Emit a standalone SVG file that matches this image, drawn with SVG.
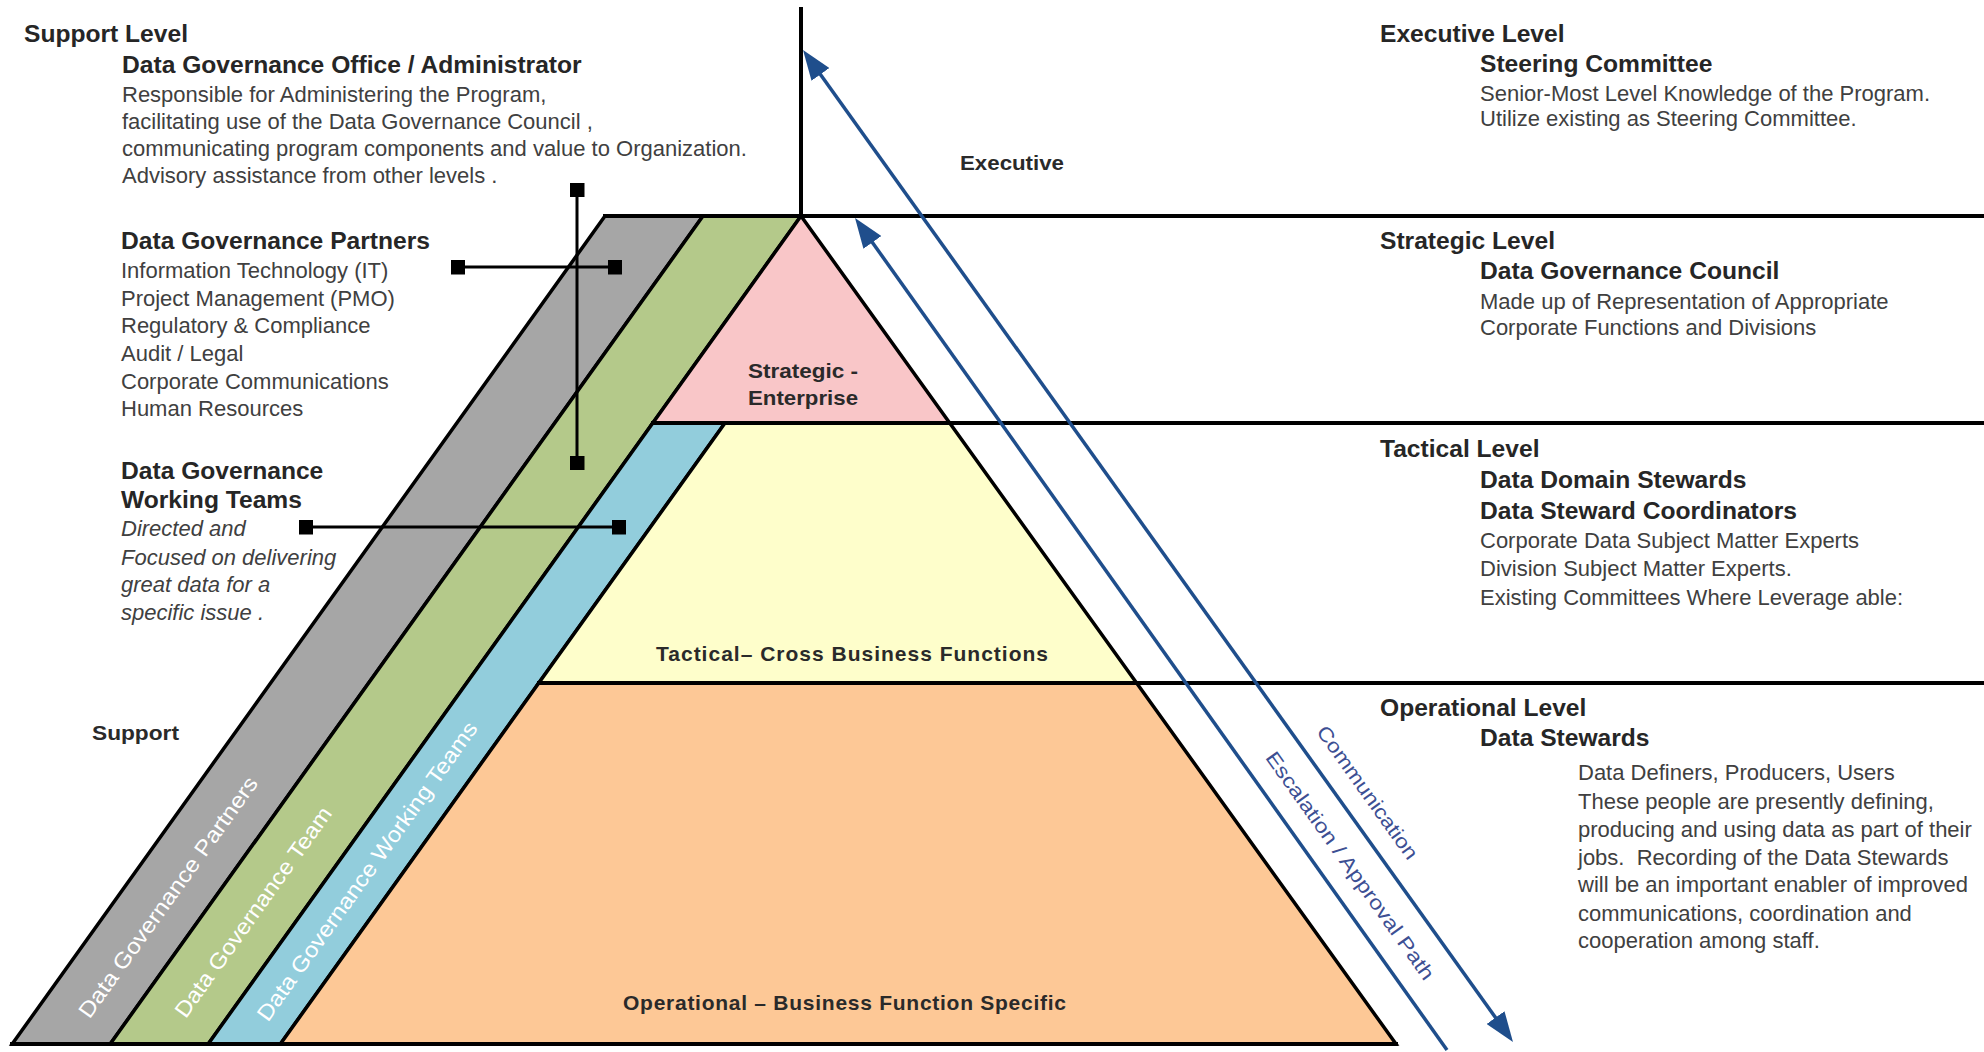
<svg xmlns="http://www.w3.org/2000/svg" width="1984" height="1052" viewBox="0 0 1984 1052">
<defs>
<style>
text{font-family:"Liberation Sans",Arial,sans-serif;}
.h{font-size:24.6px;font-weight:bold;fill:#262626;}
.t{font-size:22px;fill:#404040;}
.ti{font-size:22px;font-style:italic;fill:#404040;}
.m{font-size:21px;font-weight:bold;fill:#2a2a2a;}
.band{font-size:22px;fill:#fff;}
.arr{font-size:20px;fill:#3d4f93;}
.edge{stroke:#000;stroke-width:3.5;stroke-linejoin:miter;}
.rule{stroke:#000;stroke-width:4;fill:none;}
.con{stroke:#000;stroke-width:3;fill:none;}
.blue{stroke:#1f4e8c;stroke-width:3.5;fill:none;}
</style>
<marker id="sq" markerUnits="userSpaceOnUse" markerWidth="14" markerHeight="15" refX="7" refY="7.5" orient="auto"><rect width="14" height="15" fill="#000"/></marker>
<marker id="ah" markerUnits="userSpaceOnUse" markerWidth="30" markerHeight="22" refX="24" refY="11" orient="auto-start-reverse"><path d="M0,0 L30,11 L0,22 Z" fill="#1f4e8c"/></marker>
</defs>
<rect width="1984" height="1052" fill="#fff"/>

<g id="band-partners">
<polygon class="edge" fill="#a6a6a6" points="605,216 703,216 110.2,1044 12.2,1044"/>
<text class="band" text-anchor="middle" dy="0.35em" textLength="291" lengthAdjust="spacingAndGlyphs" transform="translate(168,897) rotate(-54.4)">Data Governance Partners</text>
</g>
<g id="band-team">
<polygon class="edge" fill="#b4c98a" points="703,216 801,216 208.2,1044 110.2,1044"/>
<text class="band" text-anchor="middle" dy="0.35em" textLength="253" lengthAdjust="spacingAndGlyphs" transform="translate(253,912) rotate(-54.4)">Data Governance Team</text>
</g>
<g id="band-working">
<polygon class="edge" fill="#92cddc" points="652.8,423 725,423 280.4,1044 208.2,1044"/>
<text class="band" text-anchor="middle" dy="0.35em" textLength="362" lengthAdjust="spacingAndGlyphs" transform="translate(367,871) rotate(-54.4)">Data Governance Working Teams</text>
</g>
<g id="layer-strategic">
<polygon class="edge" fill="#f9c6c8" points="801,216 949.7,423 652.8,423"/>
<text class="m" x="803" y="378" text-anchor="middle" textLength="110" lengthAdjust="spacingAndGlyphs">Strategic -</text>
<text class="m" x="803" y="405" text-anchor="middle" textLength="110" lengthAdjust="spacingAndGlyphs">Enterprise</text>
</g>
<g id="layer-tactical">
<polygon class="edge" fill="#fefecb" points="725,423 949.7,423 1136.6,683 538.8,683"/>
<text class="m" x="656" y="661" textLength="392" lengthAdjust="spacing">Tactical– Cross Business Functions</text>
</g>
<g id="layer-operational">
<polygon class="edge" fill="#fdc896" points="538.8,683 1136.6,683 1396,1044 280.4,1044"/>
<text class="m" x="623" y="1010" textLength="443" lengthAdjust="spacing">Operational – Business Function Specific</text>
</g>

<g id="rules">
<line class="rule" x1="801" y1="7" x2="801" y2="216"/>
<line class="rule" x1="603" y1="216" x2="1984" y2="216"/>
<line class="rule" x1="651" y1="423" x2="1984" y2="423"/>
<line class="rule" x1="537" y1="683" x2="1984" y2="683"/>
<line class="rule" x1="10" y1="1044" x2="1398" y2="1044"/>
</g>

<g id="connectors">
<line class="con" x1="577" y1="190" x2="577" y2="463" marker-start="url(#sq)" marker-end="url(#sq)"/>
<line class="con" x1="458" y1="267" x2="615" y2="267" marker-start="url(#sq)" marker-end="url(#sq)"/>
<line class="con" x1="306" y1="527" x2="619" y2="527" marker-start="url(#sq)" marker-end="url(#sq)"/>
<line class="blue" x1="806.5" y1="54.9" x2="1509.5" y2="1037.1" marker-start="url(#ah)" marker-end="url(#ah)"/>
<line class="blue" x1="1447" y1="1050" x2="858.5" y2="222.9" marker-end="url(#ah)"/>
<text class="arr" text-anchor="middle" textLength="159" lengthAdjust="spacingAndGlyphs" transform="translate(1345.6,808) rotate(54.5)" y="-20">Communication</text>
<text class="arr" text-anchor="middle" textLength="275" lengthAdjust="spacingAndGlyphs" transform="translate(1327.5,881.9) rotate(54.5)" y="-21">Escalation / Approval Path</text>
</g>

<g id="support-level">
<text class="h" x="24" y="42">Support Level</text>
<text class="h" x="122" y="73">Data Governance Office / Administrator</text>
<text class="t" x="122" y="102">Responsible for Administering the Program,</text>
<text class="t" x="122" y="129">facilitating use of the Data Governance Council ,</text>
<text class="t" x="122" y="156">communicating program components and value to Organization.</text>
<text class="t" x="122" y="183">Advisory assistance from other levels .</text>
</g>
<g id="partners">
<text class="h" x="121" y="249">Data Governance Partners</text>
<text class="t" x="121" y="278">Information Technology (IT)</text>
<text class="t" x="121" y="306">Project Management (PMO)</text>
<text class="t" x="121" y="333">Regulatory &amp; Compliance</text>
<text class="t" x="121" y="361">Audit / Legal</text>
<text class="t" x="121" y="389">Corporate Communications</text>
<text class="t" x="121" y="416">Human Resources</text>
</g>
<g id="working-teams">
<text class="h" x="121" y="479">Data Governance</text>
<text class="h" x="121" y="508">Working Teams</text>
<text class="ti" x="121" y="536">Directed and</text>
<text class="ti" x="121" y="565">Focused on delivering</text>
<text class="ti" x="121" y="592">great data for a</text>
<text class="ti" x="121" y="620">specific issue .</text>
</g>
<g id="support-label">
<text class="m" x="92" y="740" textLength="87" lengthAdjust="spacingAndGlyphs">Support</text>
</g>
<g id="executive-label">
<text class="m" x="960" y="170" textLength="104" lengthAdjust="spacingAndGlyphs">Executive</text>
</g>

<g id="executive-level">
<text class="h" x="1380" y="42">Executive Level</text>
<text class="h" x="1480" y="72">Steering Committee</text>
<text class="t" x="1480" y="101">Senior-Most Level Knowledge of the Program.</text>
<text class="t" x="1480" y="126">Utilize existing as Steering Committee.</text>
</g>
<g id="strategic-level">
<text class="h" x="1380" y="249">Strategic Level</text>
<text class="h" x="1480" y="279">Data Governance Council</text>
<text class="t" x="1480" y="309">Made up of Representation of Appropriate</text>
<text class="t" x="1480" y="335">Corporate Functions and Divisions</text>
</g>
<g id="tactical-level">
<text class="h" x="1380" y="457">Tactical Level</text>
<text class="h" x="1480" y="488">Data Domain Stewards</text>
<text class="h" x="1480" y="519">Data Steward Coordinators</text>
<text class="t" x="1480" y="548">Corporate Data Subject Matter Experts</text>
<text class="t" x="1480" y="576">Division Subject Matter Experts.</text>
<text class="t" x="1480" y="605">Existing Committees Where Leverage able:</text>
</g>
<g id="operational-level">
<text class="h" x="1380" y="716">Operational Level</text>
<text class="h" x="1480" y="746">Data Stewards</text>
<text class="t" x="1578" y="780">Data Definers, Producers, Users</text>
<text class="t" x="1578" y="809">These people are presently defining,</text>
<text class="t" x="1578" y="837">producing and using data as part of their</text>
<text class="t" x="1578" y="865">jobs.&#160; Recording of the Data Stewards</text>
<text class="t" x="1578" y="892">will be an important enabler of improved</text>
<text class="t" x="1578" y="921">communications, coordination and</text>
<text class="t" x="1578" y="948">cooperation among staff.</text>
</g>
</svg>
